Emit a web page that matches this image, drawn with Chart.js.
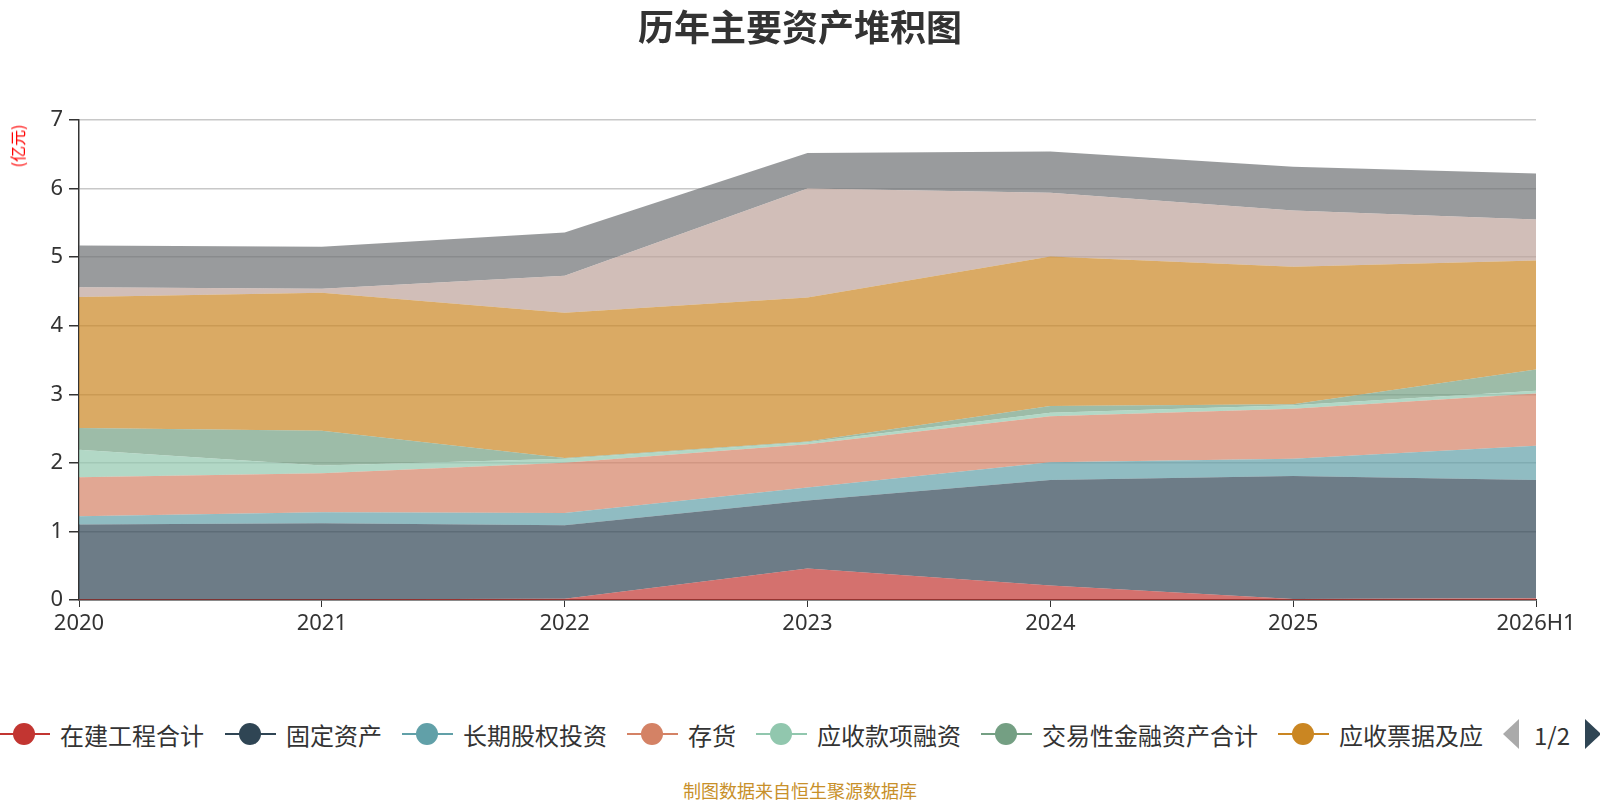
<!DOCTYPE html>
<html>
<head>
<meta charset="utf-8">
<script src="https://cdn.jsdelivr.net/npm/chart.js@4/dist/chart.umd.min.js"></script>
<style>
  body { margin: 0; background: #fff; font-family: "Noto Sans CJK SC", "Noto Sans", sans-serif; }
  #wrap { position: relative; width: 1600px; height: 800px; overflow: hidden; }
  #title { position: absolute; top: 0; left: 0; width: 1600px; height: 50px; line-height: 50px; text-align: center; font-size: 36px; font-weight: bold; color: #333; }
  #unit { position: absolute; left: 17px; top: 146px; transform: translate(-50%, -50%) rotate(-90deg); color: #f00; font-size: 16px; white-space: nowrap; }
  #chartBox { position: absolute; left: 0; top: 0; width: 1600px; height: 652px; }
  #legend { position: absolute; top: 714px; left: 0; width: 1600px; height: 40px; }
  .item { position: absolute; top: 0; height: 40px; display: flex; align-items: center; font-size: 24px; color: #333; white-space: nowrap; }
  .icon { position: relative; width: 51px; height: 24px; margin-right: 10px; }
  .icon .ln { position: absolute; left: 0; top: 11px; width: 51px; height: 2px; }
  .icon .dot { position: absolute; left: 14px; top: 1px; width: 22px; height: 22px; border-radius: 50%; }
  #pager { position: absolute; top: 718px; left: 1502px; height: 32px; display: flex; align-items: center; font-size: 24px; color: #333; }
  #footer { position: absolute; top: 778px; left: 0; width: 1600px; height: 24px; line-height: 24px; text-align: center; font-size: 18px; color: #c8902a; }
</style>
</head>
<body>
<div id="wrap">
  <div id="chartBox"><canvas id="myChart" width="1600" height="652"></canvas></div>
  <div id="title">历年主要资产堆积图</div>
  <div id="unit">(亿元)</div>
  <div id="legend"></div>
  <div id="pager">
    <svg width="18" height="32"><polygon points="17,1 17,31 1,16" fill="#aaa"/></svg>
    <span style="margin:0 14px 0 14px">1/2</span>
    <svg width="18" height="32"><polygon points="1,1 1,31 17,16" fill="#2f4554"/></svg>
  </div>
  <div id="footer">制图数据来自恒生聚源数据库</div>
</div>
<script>
var years = ['2020', '2021', '2022', '2023', '2024', '2025', '2026H1'];
var yTicks = [0, 1, 2, 3, 4, 5, 6, 7];

var seriesNames = ['在建工程合计', '固定资产', '长期股权投资', '存货', '应收款项融资', '交易性金融资产合计', '应收票据及应收账款', '预付款项', '货币资金'];
var seriesColors = ['#c23531', '#2f4554', '#61a0a8', '#d48265', '#91c7ae', '#749f83', '#ca8622', '#bda29a', '#6e7074'];

// values in 亿元, one array per series
var zaiJianGongCheng = [0.01, 0.01, 0.02, 0.46, 0.21, 0.015, 0.025];
var guDingZiChan = [1.09, 1.11, 1.07, 0.99, 1.54, 1.795, 1.725];
var changQiGuQuan = [0.12, 0.16, 0.18, 0.19, 0.26, 0.25, 0.50];
var cunHuo = [0.57, 0.57, 0.73, 0.63, 0.67, 0.73, 0.76];
var yingShouKuanXiang = [0.40, 0.11, 0.06, 0.03, 0.05, 0.05, 0.04];
var jiaoYiXingJinRong = [0.32, 0.51, 0.01, 0.01, 0.10, 0.015, 0.31];
var yingShouPiaoJu = [1.91, 2.01, 2.12, 2.10, 2.18, 2.005, 1.59];
var yuFuKuanXiang = [0.14, 0.06, 0.54, 1.59, 0.93, 0.82, 0.60];
var huoBiZiJin = [0.61, 0.61, 0.63, 0.52, 0.60, 0.64, 0.67];

var allValues = [zaiJianGongCheng, guDingZiChan, changQiGuQuan, cunHuo, yingShouKuanXiang,
  jiaoYiXingJinRong, yingShouPiaoJu, yuFuKuanXiang, huoBiZiJin];

// legend positions (page 1 shows the first seven, the first one partly cut off)
var legendX = [-1, 225, 402, 627, 756, 981, 1278];

function fade(hex, a) {
  var r = parseInt(hex.substr(1, 2), 16);
  var g = parseInt(hex.substr(3, 2), 16);
  var b = parseInt(hex.substr(5, 2), 16);
  return 'rgba(' + r + ',' + g + ',' + b + ',' + a + ')';
}

var datasets = [];
for (var i = 0; i < allValues.length; i++) {
  datasets.push({
    label: seriesNames[i],
    data: allValues[i],
    backgroundColor: fade(seriesColors[i], 0.7),
    borderColor: fade(seriesColors[i], 0.7),
    borderWidth: 0,
    pointRadius: 0,
    pointHoverRadius: 0,
    tension: 0,
    fill: i == 0 ? 'origin' : '-1'
  });
}

var legendBox = document.getElementById('legend');
for (var j = 0; j < 7; j++) {
  var item = document.createElement('div');
  item.className = 'item';
  item.style.left = legendX[j] + 'px';
  var txt = seriesNames[j];
  if (j == 6) txt = '应收票据及应';
  item.innerHTML = '<div class="icon"><div class="ln" style="background:' + seriesColors[j] + '"></div>' +
    '<div class="dot" style="background:' + seriesColors[j] + '"></div></div><span>' + txt + '</span>';
  legendBox.appendChild(item);
}

var tickFont = { family: '"Noto Sans", "Noto Sans CJK SC", sans-serif', size: 22 };

var config = {
  type: 'line',
  data: { labels: years, datasets: datasets },
  options: {
    responsive: false,
    animation: false,
    layout: { padding: { left: 0, right: 64, top: 120, bottom: 0 } },
    plugins: {
      legend: { display: false },
      title: { display: false },
      tooltip: { enabled: false }
    },
    scales: {
      x: {
        offset: false,
        grid: { color: 'transparent', tickColor: '#333', tickLength: 7, drawOnChartArea: false },
        border: { display: true, color: '#333', width: 1.5 },
        ticks: { color: '#333', font: tickFont, padding: 4, maxRotation: 0, autoSkip: false },
        afterFit: function (scale) { scale.height = 52; }
      },
      y: {
        stacked: true,
        min: 0,
        max: 7,
        afterBuildTicks: function (scale) {
          scale.ticks = yTicks.map(function (v) { return { value: v }; });
        },
        grid: { color: '#c8c8c8', lineWidth: 1.5, tickColor: '#333', tickLength: 10 },
        border: { display: true, color: '#333', width: 1.5 },
        ticks: { color: '#333', font: tickFont, padding: 6 },
        afterFit: function (scale) { scale.width = 79; }
      }
    }
  }
};

var ctx = document.getElementById('myChart').getContext('2d');
window.myArea = new Chart(ctx, config);
</script>
</body>
</html>
